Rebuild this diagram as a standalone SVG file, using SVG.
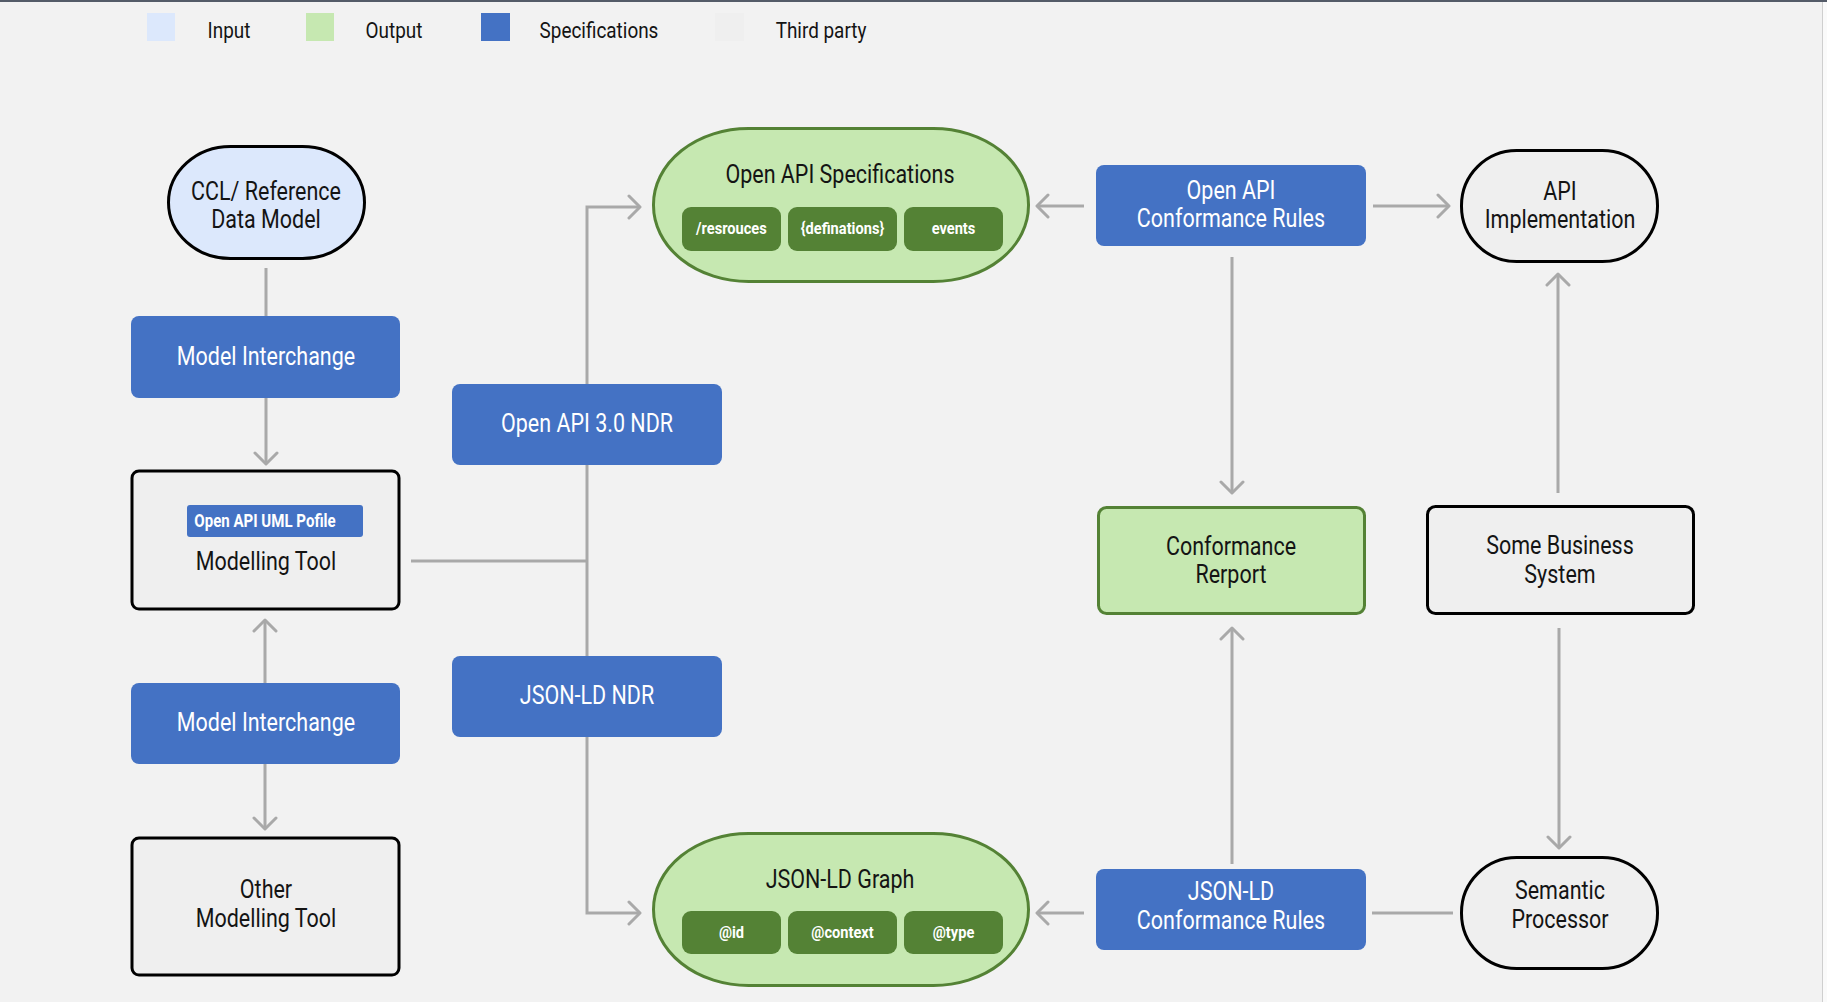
<svg xmlns="http://www.w3.org/2000/svg" width="1827" height="1002" viewBox="0 0 1827 1002">
<style>
text{font-family:Roboto,"Liberation Sans",sans-serif;text-anchor:middle;transform-box:fill-box;transform-origin:center;transform:scaleX(.86)}
.t{font-size:25px;fill:#141414}
.w{fill:#ffffff}
.lg{font-size:22px;fill:#141414}
.b{font-size:17px;font-weight:bold;fill:#ffffff}
.bu{font-size:17.5px;font-weight:bold;fill:#ffffff}
.spec{fill:#4472c4}
.out{fill:#c6e8b1;stroke:#548235;stroke-width:3}
.third{fill:#efefef;stroke:#000000;stroke-width:3}
.inp{fill:#dce8fc;stroke:#000000;stroke-width:3}
.chip{fill:#548235}
.c{fill:none;stroke:#a9a9a9;stroke-width:3}
.a{marker-end:url(#arr)}
</style>
<defs>
<marker id="arr" markerUnits="userSpaceOnUse" viewBox="0 0 16 26" refX="13" refY="13" markerWidth="16" markerHeight="26" orient="auto">
<path d="M2,2 L13,13 L2,24" fill="none" stroke="#a9a9a9" stroke-width="3" stroke-linecap="round" stroke-linejoin="round"/>
</marker>
</defs>
<rect x="0" y="0" width="1827" height="1002" fill="#f2f2f2"/>
<rect x="1823" y="0" width="4" height="1002" fill="#fafafa"/>
<line x1="1822.5" y1="0" x2="1822.5" y2="1002" stroke="#cfcfcf" stroke-width="1"/>
<rect x="0" y="0" width="1827" height="2" fill="#545b68"/>

<g id="legend">
<rect x="147" y="13" width="28" height="28" fill="#dce8fc"/>
<text class="lg" x="229" y="38">Input</text>
<rect x="306" y="13" width="28" height="28" fill="#c6e8b1"/>
<text class="lg" x="394" y="38">Output</text>
<rect x="481" y="13" width="29" height="28" fill="#4472c4"/>
<text class="lg" x="599" y="38">Specifications</text>
<rect x="715" y="13" width="29" height="28" fill="#efefef"/>
<text class="lg" x="821" y="38">Third party</text>
</g>

<g id="connectors">
<path class="c" d="M266,268 V316"/>
<path class="c a" d="M266,398 V464"/>
<path class="c a" d="M265,683 V620"/>
<path class="c a" d="M265,764 V829"/>
<path class="c" d="M411,561 H587"/>
<path class="c a" d="M587,561 V207 H640"/>
<path class="c a" d="M587,561 V913 H640"/>
<path class="c a" d="M1084,206 H1037"/>
<path class="c a" d="M1373,206 H1449"/>
<path class="c a" d="M1232,257 V493"/>
<path class="c a" d="M1232,864 V628"/>
<path class="c a" d="M1084,913 H1037"/>
<path class="c" d="M1453,913 H1372"/>
<path class="c a" d="M1559,628 V848"/>
<path class="c a" d="M1558,493 V274"/>
</g>

<g id="ccl">
<rect class="inp" x="168.5" y="146.5" width="196" height="112" rx="62" ry="56"/>
<text class="t" x="266" y="200">CCL/ Reference</text>
<text class="t" x="266" y="228">Data Model</text>
</g>

<g id="model-interchange-1">
<rect class="spec" x="131" y="316" width="269" height="82" rx="8"/>
<text class="t w" x="266" y="365">Model Interchange</text>
</g>

<g id="modelling-tool">
<rect class="third" x="132" y="471" width="267" height="138" rx="7"/>
<rect class="spec" x="187" y="505" width="176" height="32" rx="3"/>
<text class="bu" x="265" y="527">Open API UML Pofile</text>
<text class="t" x="266" y="570">Modelling Tool</text>
</g>

<g id="model-interchange-2">
<rect class="spec" x="131" y="683" width="269" height="81" rx="8"/>
<text class="t w" x="266" y="731">Model Interchange</text>
</g>

<g id="other-modelling-tool">
<rect class="third" x="132" y="838" width="267" height="137" rx="7"/>
<text class="t" x="266" y="898">Other</text>
<text class="t" x="266" y="927">Modelling Tool</text>
</g>

<g id="openapi-ndr">
<rect class="spec" x="452" y="384" width="270" height="81" rx="8"/>
<text class="t w" x="587" y="432">Open API 3.0 NDR</text>
</g>

<g id="jsonld-ndr">
<rect class="spec" x="452" y="656" width="270" height="81" rx="8"/>
<text class="t w" x="587" y="704">JSON-LD NDR</text>
</g>

<g id="openapi-specs">
<rect class="out" x="653.5" y="128.5" width="375" height="153" rx="95" ry="76"/>
<text class="t" x="840" y="183">Open API Specifications</text>
<rect class="chip" x="682" y="207" width="99" height="44" rx="9"/>
<text class="b" x="731.5" y="234">/resrouces</text>
<rect class="chip" x="788" y="207" width="109" height="44" rx="9"/>
<text class="b" x="842.5" y="234">{definations}</text>
<rect class="chip" x="904" y="207" width="99" height="44" rx="9"/>
<text class="b" x="953.5" y="234">events</text>
</g>

<g id="jsonld-graph">
<rect class="out" x="653.5" y="833.5" width="375" height="152" rx="95" ry="76"/>
<text class="t" x="840" y="888">JSON-LD Graph</text>
<rect class="chip" x="682" y="911" width="99" height="43" rx="9"/>
<text class="b" x="731.5" y="938">@id</text>
<rect class="chip" x="788" y="911" width="109" height="43" rx="9"/>
<text class="b" x="842.5" y="938">@context</text>
<rect class="chip" x="904" y="911" width="99" height="43" rx="9"/>
<text class="b" x="953.5" y="938">@type</text>
</g>

<g id="openapi-conformance-rules">
<rect class="spec" x="1096" y="165" width="270" height="81" rx="8"/>
<text class="t w" x="1231" y="199">Open API</text>
<text class="t w" x="1231" y="227">Conformance Rules</text>
</g>

<g id="conformance-report">
<rect class="out" x="1098.5" y="507.5" width="266" height="106" rx="8"/>
<text class="t" x="1231" y="555">Conformance</text>
<text class="t" x="1231" y="583">Rerport</text>
</g>

<g id="jsonld-conformance-rules">
<rect class="spec" x="1096" y="869" width="270" height="81" rx="8"/>
<text class="t w" x="1231" y="900">JSON-LD</text>
<text class="t w" x="1231" y="929">Conformance Rules</text>
</g>

<g id="api-implementation">
<rect class="third" x="1461.5" y="150.5" width="196" height="111" rx="55" ry="55"/>
<text class="t" x="1560" y="200">API</text>
<text class="t" x="1560" y="228">Implementation</text>
</g>

<g id="some-business-system">
<rect class="third" x="1427.5" y="506.5" width="266" height="107" rx="8"/>
<text class="t" x="1560" y="554">Some Business</text>
<text class="t" x="1560" y="583">System</text>
</g>

<g id="semantic-processor">
<rect class="third" x="1461.5" y="857.5" width="196" height="111" rx="55" ry="55"/>
<text class="t" x="1560" y="899">Semantic</text>
<text class="t" x="1560" y="928">Processor</text>
</g>
</svg>
